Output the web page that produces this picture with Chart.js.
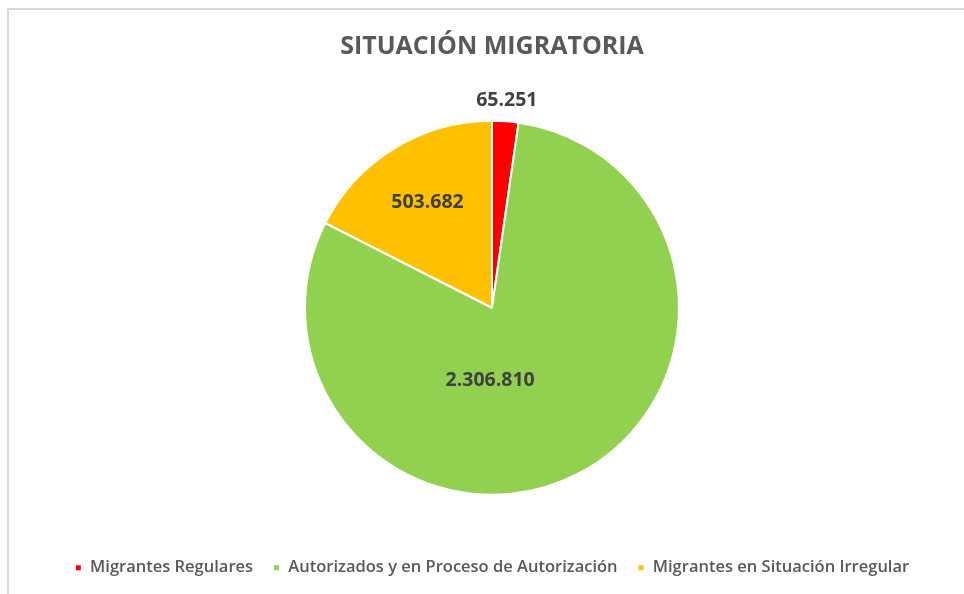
<!DOCTYPE html>
<html>
<head>
<meta charset="utf-8">
<script src="https://cdn.jsdelivr.net/npm/chart.js@4/dist/chart.umd.min.js"></script>
<style>
    html, body { margin: 0; padding: 0; background: #fff; }
    #wrap { position: relative; width: 964px; height: 594px; overflow: hidden; }
    #frame { position: absolute; left: 7px; top: 8px; width: 1000px; height: 700px;
             border-left: 2px solid #d9d9d9; border-top: 2px solid #d9d9d9; }
    canvas { position: absolute; left: 0; top: 0; }
</style>
</head>
<body>
<div id="wrap">
    <div id="frame"></div>
    <canvas id="chart" width="964" height="594"></canvas>
</div>
<script>
var categories = ['Migrantes Regulares', 'Autorizados y en Proceso de Autorización', 'Migrantes en Situación Irregular'];
var values = [65251, 2306810, 503682];
var valueLabels = ['65.251', '2.306.810', '503.682'];
var colors = ['#FF0000', '#92D050', '#FFC000'];

var FONT = "'Open Sans', 'Noto Sans', sans-serif";

// where each value label sits: fraction along the arc, fraction of the radius
var labelPlace = [
    { along: 0.5, out: 1.11 },
    { along: 0.6, out: 0.39 },
    { along: 0.5, out: 0.66 }
];

var valueLabelPlugin = {
    id: 'valueLabels',
    afterDatasetsDraw: function (chart) {
        var ctx = chart.ctx;
        var meta = chart.getDatasetMeta(0);
        ctx.save();
        ctx.font = 'bold 19.5px ' + FONT;
        ctx.fillStyle = '#404040';
        ctx.textAlign = 'center';
        ctx.textBaseline = 'middle';
        meta.data.forEach(function (arc, i) {
            var p = labelPlace[i];
            var a = arc.startAngle + (arc.endAngle - arc.startAngle) * p.along;
            var r = arc.outerRadius * p.out;
            ctx.fillText(valueLabels[i], arc.x + Math.cos(a) * r, arc.y + Math.sin(a) * r);
        });
        ctx.restore();
    }
};

var pieCtx = document.getElementById('chart').getContext('2d');
var pieChart = new Chart(pieCtx, {
    type: 'pie',
    data: {
        labels: categories,
        datasets: [{
            data: values,
            backgroundColor: colors,
            borderColor: '#ffffff',
            borderWidth: 2
        }]
    },
    options: {
        responsive: false,
        animation: false,
        radius: 187,
        layout: {
            padding: { left: 20, right: 0, top: 0, bottom: 8 }
        },
        plugins: {
            title: {
                display: true,
                text: 'SITUACIÓN MIGRATORIA',
                color: '#595959',
                font: { family: FONT, size: 25, weight: 'bold' },
                padding: { top: 32, bottom: 14 }
            },
            legend: {
                position: 'bottom',
                labels: {
                    color: '#595959',
                    font: { family: FONT, size: 16.5, weight: '600' },
                    boxWidth: 7,
                    boxHeight: 7,
                    padding: 20
                }
            },
            tooltip: { enabled: false }
        }
    },
    plugins: [valueLabelPlugin]
});
</script>
</body>
</html>
